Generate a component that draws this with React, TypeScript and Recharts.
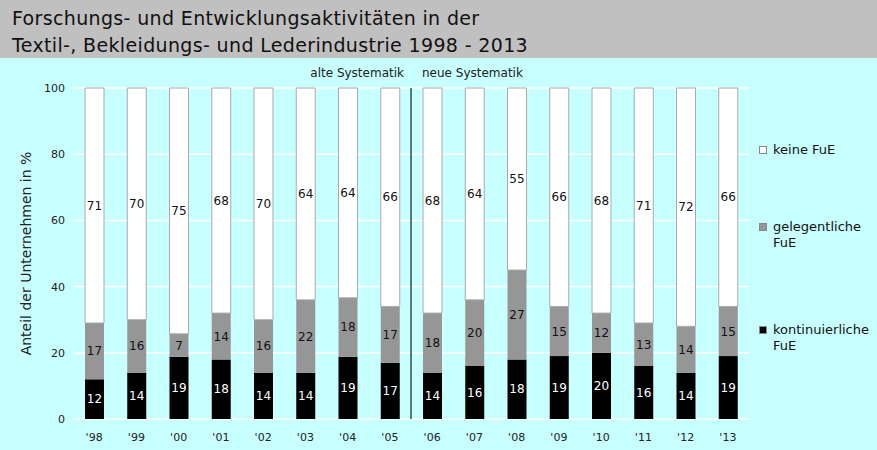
import React from 'react';
import {
  BarChart,
  Bar,
  XAxis,
  YAxis,
  CartesianGrid,
  LabelList,
  ReferenceLine,
} from 'recharts';

const years = ["'98", "'99", "'00", "'01", "'02", "'03", "'04", "'05", "'06", "'07", "'08", "'09", "'10", "'11", "'12", "'13"];
const kontinuierlich = [12, 14, 19, 18, 14, 14, 19, 17, 14, 16, 18, 19, 20, 16, 14, 19];
const gelegentlich = [17, 16, 7, 14, 16, 22, 18, 17, 18, 20, 27, 15, 12, 13, 14, 15];
const keine = [71, 70, 75, 68, 70, 64, 64, 66, 68, 64, 55, 66, 68, 71, 72, 66];
const yTicks = [0, 0.2, 0.4, 0.6, 0.8, 1];

const data = years.map((year, i) => ({
  year,
  kont: kontinuierlich[i],
  gel: gelegentlich[i],
  keine: keine[i],
}));

const FONT = '"DejaVu Sans", Verdana, sans-serif';

const legendItems = [
  { label: ['keine FuE'], color: '#fff', top: 142 },
  { label: ['gelegentliche', 'FuE'], color: '#969696', top: 219 },
  { label: ['kontinuierliche', 'FuE'], color: '#000', top: 322 },
];

const SystemLabel = (props: any) => {
  const { viewBox } = props;
  const x = viewBox.x;
  const y = viewBox.y - 11;
  return (
    <g fontFamily={FONT} fontSize={12} fill="#222">
      <text x={x - 7} y={y} textAnchor="end">alte Systematik</text>
      <text x={x + 11} y={y} textAnchor="start">neue Systematik</text>
    </g>
  );
};

export default function App() {
  return (
    <div style={{ position: 'absolute', left: 0, top: 0, width: 877, height: 450, background: '#C8FFFF', overflow: 'hidden' }}>
      <div
        style={{
          height: 58,
          background: '#C0C0C0',
          fontFamily: FONT,
          fontSize: 19,
          letterSpacing: 0.35,
          color: '#111',
          padding: '5px 0 0 12px',
          boxSizing: 'border-box',
          lineHeight: '27px',
        }}
      >
        <div>Forschungs- und Entwicklungsaktivitäten in der</div>
        <div>Textil-, Bekleidungs- und Lederindustrie 1998 - 2013</div>
      </div>
      <BarChart
        width={877}
        height={392}
        data={data}
        stackOffset="expand"
        barSize={19}
        margin={{ top: 30, right: 128, bottom: 0, left: 0 }}
      >
        <CartesianGrid vertical={false} stroke="#ffffff" strokeWidth={1.5} />
        <XAxis
          dataKey="year"
          height={31}
          axisLine={false}
          tickLine={false}
          tickMargin={8}
          interval={0}
          tick={{ fontFamily: FONT, fontSize: 11, fill: '#222' }}
        />
        <YAxis
          width={73}
          domain={[0, 1]}
          ticks={yTicks}
          tickFormatter={(v: number) => String(Math.round(v * 100))}
          axisLine={false}
          tickLine={false}
          tick={{ fontFamily: FONT, fontSize: 11, fill: '#222' }}
          label={{
            value: 'Anteil der Unternehmen in %',
            angle: -90,
            position: 'center',
            dx: -10,
            style: { fontFamily: FONT, fontSize: 14, fill: '#222' },
          }}
        />
        <Bar dataKey="kont" stackId="a" fill="#000000" isAnimationActive={false}>
          <LabelList dataKey="kont" position="center" fill="#ffffff" style={{ fontFamily: FONT, fontSize: 12 }} />
        </Bar>
        <Bar dataKey="gel" stackId="a" fill="#969696" isAnimationActive={false}>
          <LabelList dataKey="gel" position="center" fill="#111" style={{ fontFamily: FONT, fontSize: 12 }} />
        </Bar>
        <Bar dataKey="keine" stackId="a" fill="#ffffff" stroke="#aaa" strokeWidth={1} isAnimationActive={false}>
          <LabelList dataKey="keine" position="center" fill="#111" style={{ fontFamily: FONT, fontSize: 12 }} />
        </Bar>
        <ReferenceLine
          x="'05"
          position="end"
          stroke="#5a7a7a"
          strokeWidth={2}
          ifOverflow="visible"
          label={<SystemLabel />}
        />
      </BarChart>
      {legendItems.map((item) => (
        <div
          key={item.label[0]}
          style={{ position: 'absolute', top: item.top, left: 757, fontFamily: FONT, fontSize: 13, color: '#111', lineHeight: '16px' }}
        >
          <span
            style={{
              position: 'absolute',
              left: 2,
              top: 4,
              width: 8,
              height: 8,
              background: item.color,
              border: '1px solid #888',
              boxSizing: 'border-box',
            }}
          />
          <div style={{ marginLeft: 16 }}>
            {item.label.map((l) => (
              <div key={l}>{l}</div>
            ))}
          </div>
        </div>
      ))}
    </div>
  );
}
